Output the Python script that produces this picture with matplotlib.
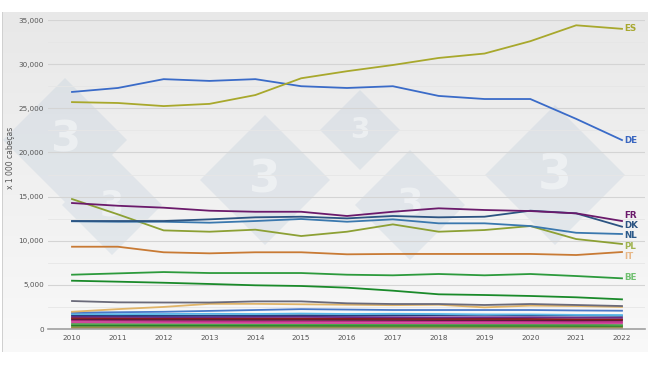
import matplotlib
matplotlib.use("Agg")
import matplotlib.pyplot as plt
import numpy as np
from matplotlib.patches import Polygon, Rectangle

years = list(range(2010, 2023))

ES = [25700, 25600, 25250, 25500, 26500, 28400, 29200, 29900, 30700, 31200, 32600, 34400, 34000]
DE = [26850, 27300, 28300, 28100, 28300, 27500, 27300, 27500, 26400, 26050, 26050, 23800, 21400]
FR = [14270, 13960, 13740, 13400, 13280, 13280, 12800, 13280, 13670, 13480, 13360, 13100, 12230]
DK = [12230, 12230, 12230, 12420, 12650, 12720, 12530, 12800, 12650, 12720, 13400, 13100, 11590]
NL = [12200, 12150, 12150, 12040, 12230, 12460, 12150, 12420, 11970, 11970, 11660, 10900, 10760]
PL = [14720, 12990, 11170, 11020, 11250, 10530, 11020, 11850, 11020, 11210, 11660, 10190, 9630]
IT = [9320, 9320, 8690, 8570, 8690, 8690, 8460, 8500, 8500, 8500, 8500, 8380, 8720]
BE = [6150, 6300, 6450, 6340, 6340, 6340, 6150, 6080, 6230, 6080, 6230, 6000, 5740]
RO = [5470, 5360, 5240, 5100, 4950, 4870, 4680, 4340, 3930, 3850, 3740, 3590, 3360]
HU = [3170, 3020, 3000, 3000, 3130, 3130, 2910, 2830, 2830, 2720, 2830, 2720, 2600]
PT = [1950, 2250, 2500, 2850, 2850, 2800, 2750, 2700, 2750, 2450, 2650, 2600, 2500]
AT = [1850, 1900, 1950, 2050, 2150, 2250, 2200, 2150, 2150, 2150, 2150, 2100, 2070]
SE = [1700, 1680, 1700, 1720, 1700, 1750, 1700, 1720, 1700, 1650, 1650, 1600, 1580]
IE = [1550, 1520, 1500, 1520, 1530, 1550, 1540, 1560, 1580, 1600, 1560, 1540, 1500]
CZ = [1400, 1380, 1350, 1350, 1370, 1380, 1350, 1330, 1320, 1330, 1330, 1300, 1280]
DKx = [1250, 1230, 1200, 1210, 1200, 1190, 1180, 1170, 1150, 1150, 1140, 1110, 1100]
FI = [1100, 1080, 1060, 1050, 1040, 1040, 1030, 1020, 1010, 1010, 1000, 980, 1000]
HR = [940, 920, 900, 890, 880, 870, 860, 850, 840, 830, 820, 800, 800]
SK = [760, 740, 720, 700, 690, 680, 670, 660, 650, 650, 650, 640, 650]
GR = [570, 560, 550, 540, 530, 520, 510, 500, 500, 500, 490, 480, 450]
BG = [420, 410, 400, 400, 390, 390, 380, 380, 380, 370, 370, 360, 360]
LT = [260, 260, 250, 250, 250, 250, 250, 250, 250, 250, 250, 250, 250]
SI = [110, 110, 100, 100, 100, 100, 100, 100, 100, 100, 100, 100, 100]

labelled = [
    ("ES", ES, "#a8a82c", "#a8a830"),
    ("DE", DE, "#3a6bc8", "#3a66c0"),
    ("FR", FR, "#6b1a6b", "#6b1a6b"),
    ("DK", DK, "#2c5482", "#2c5482"),
    ("NL", NL, "#3a78ae", "#2c5a8a"),
    ("PL", PL, "#8ca034", "#a0b450"),
    ("IT", IT, "#c87a34", "#e8b888"),
    ("BE", BE, "#2c9a3c", "#70c070"),
]
label_pos = [34000, 21400, 12900, 11700, 10550, 9400, 8200, 5780]
others = [
    (RO, "#1a8a2a"), (HU, "#6a6a7a"), (PT, "#e0b468"), (AT, "#4a78c8"),
    (SE, "#58b8e8"), (IE, "#283c78"), (CZ, "#6a2a8a"), (DKx, "#8a1a1a"),
    (FI, "#5a1a3a"), (HR, "#c02a8a"), (SK, "#d04a9a"), (GR, "#4aa84a"),
    (BG, "#2a7a2a"), (LT, "#7a9a4a"), (SI, "#c06a2a"),
]

W, H = 650, 366
fig = plt.figure(figsize=(W / 100, H / 100), dpi=100)
fig.patch.set_facecolor("white")

# background panel with gradient
bg = fig.add_axes([2 / W, (H - 352) / H, 646 / W, 340 / H])
grad = np.linspace(0.91, 0.975, 256).reshape(-1, 1)
bg.imshow(np.dstack([grad, grad, grad]), aspect="auto", extent=[0, 1, 0, 1], origin="upper")
bg.set_xlim(0, 1); bg.set_ylim(0, 1)
bg.axis("off")
fig.add_artist(Rectangle((2 / W, (H - 352) / H), 0.6 / W, 340 / H, transform=fig.transFigure,
                         color="#d0d0d0", lw=0))

x0 = 2010 - 24 / 45.83
x1 = 2022 + 23 / 45.83
ax = fig.add_axes([48 / W, (H - 329) / H, 597 / W, 309 / H])
ax.patch.set_alpha(0)
ax.set_xlim(x0, x1)
ax.set_ylim(0, 35000)

# watermark diamonds
def px2data(px, py):
    xd = x0 + (px - 48) / 597 * (x1 - x0)
    yd = (329 - py) / 309 * 35000
    return xd, yd

centers = [(65, 140, 62), (112, 205, 50), (265, 180, 65), (360, 130, 40), (410, 205, 55), (555, 175, 70)]
for cx, cy, r in centers:
    pts = [px2data(cx, cy - r), px2data(cx + r, cy), px2data(cx, cy + r), px2data(cx - r, cy)]
    ax.add_patch(Polygon(pts, closed=True, facecolor="#b8c8d8", alpha=0.28, lw=0, zorder=0,
                         clip_on=False))
    tx, ty = px2data(cx, cy)
    ax.text(tx, ty, "3", fontsize=r * 0.5, fontweight="bold", color="white", alpha=0.45,
            ha="center", va="center", zorder=0.5, clip_on=False)

ax.set_yticks(np.arange(0, 35001, 5000))
ax.set_yticks(np.arange(2500, 35000, 5000), minor=True)
ax.grid(axis="y", which="major", color="#d4d4d4", lw=0.8)
ax.grid(axis="y", which="minor", color="#e6e6e6", lw=0.6)
ax.set_yticklabels([f"{v:,}" for v in range(0, 35001, 5000)])
ax.set_xticks(years)
ax.set_xticklabels([str(y) for y in years])
ax.tick_params(axis="both", which="both", length=0, labelsize=5.2, labelcolor="#555555")
ax.tick_params(axis="y", pad=3)
ax.tick_params(axis="x", pad=4)
for s in ["top", "right", "left"]:
    ax.spines[s].set_visible(False)
ax.spines["bottom"].set_color("#a0a0a0")
ax.spines["bottom"].set_linewidth(1.2)

for vals, col in others[::-1]:
    ax.plot(years, vals, color=col, lw=1.3, zorder=2)

for name, vals, col, lcol in labelled[::-1]:
    ax.plot(years, vals, color=col, lw=1.3, zorder=3)

for (name, vals, col, lcol), yp in zip(labelled, label_pos):
    ax.text(2022.05, yp, name, color=lcol, fontsize=6.3, fontweight="bold",
            ha="left", va="center", zorder=4)

fig.text(11 / W, (H - 158) / H, "x 1 000 cabeças", rotation=90, fontsize=5.5,
         color="#555555", ha="center", va="center")

fig.savefig("out.png", dpi=100)
